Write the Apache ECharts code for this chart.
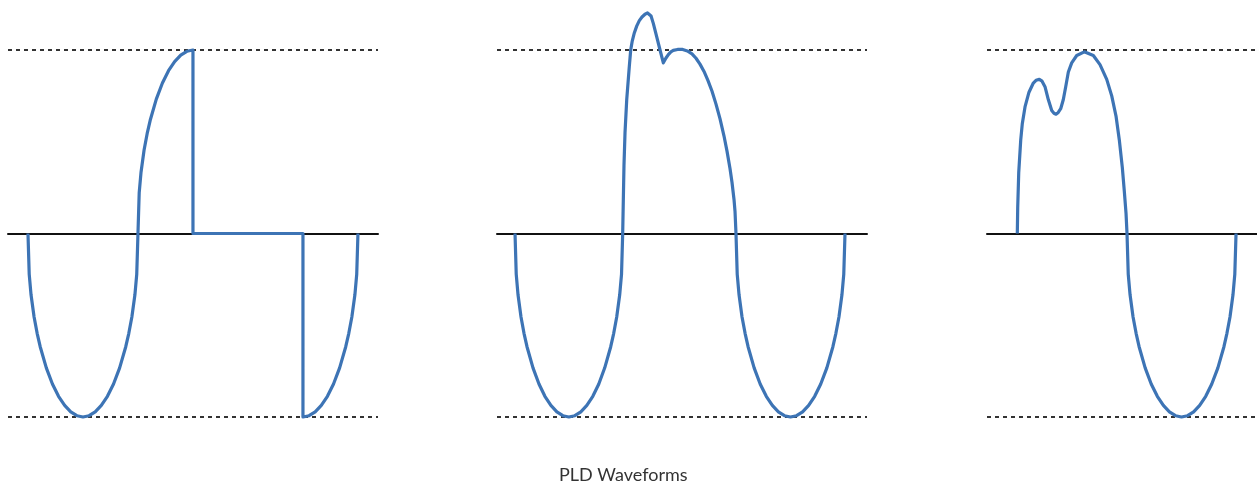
<!DOCTYPE html>
<html>
<head>
<meta charset="utf-8">
<script src="https://cdn.jsdelivr.net/npm/echarts@6/dist/echarts.min.js"></script>
<style>
html,body{margin:0;padding:0;background:#fff;}
#chart{width:1257px;height:485px;}
</style>
</head>
<body>
<div id="chart"></div>
<script>
// Phase angle (degrees) vs normalised amplitude
const titleText = 'PLD Waveforms';

const wave1 = [
  [0,0],[2,-0.221],[5,-0.334],[10,-0.455],[15,-0.544],[20,-0.617],[30,-0.732],[40,-0.82],[50,-0.887],[60,-0.937],[70,-0.972],[80,-0.993],[90,-1],
  [100,-0.993],[110,-0.972],[120,-0.937],[130,-0.887],[140,-0.82],[150,-0.732],[160,-0.617],[165,-0.544],[170,-0.455],[175,-0.334],[178,-0.221],[180,0],
  [182,0.221],[185,0.334],[190,0.455],[195,0.544],[200,0.617],[210,0.732],[220,0.82],[230,0.887],[240,0.937],[250,0.972],[260,0.993],[270,1],
  [270,0],[450,0],[450,-1],
  [460,-0.993],[470,-0.972],[480,-0.937],[490,-0.887],[500,-0.82],[510,-0.732],[520,-0.617],[525,-0.544],[530,-0.455],[535,-0.334],[538,-0.221],[540,0]
];

const wave2 = [
  [0,0],[1.96,-0.221],[4.9,-0.334],[9.8,-0.455],[14.7,-0.544],[19.6,-0.617],[29.4,-0.732],[39.2,-0.82],[48.9,-0.887],[58.7,-0.937],[68.5,-0.972],[78.3,-0.993],[88.1,-1],
  [97.9,-0.993],[107.7,-0.972],[117.5,-0.937],[127.3,-0.887],[137.1,-0.82],[146.8,-0.732],[156.6,-0.617],[161.5,-0.544],[166.4,-0.455],[171.3,-0.334],[174.3,-0.221],[176.2,0],
  [177.2,0.18],[178.3,0.37],[180,0.55],[182.8,0.73],[187,0.91],[189.3,1.0],[191.9,1.05],[195.2,1.093],[199.1,1.13],[203.4,1.16],[207.8,1.18],[212.7,1.195],[216.8,1.202],[219.8,1.205],
  [222.6,1.185],[226.3,1.145],[231.9,1.072],[237.3,1.0],[242.7,0.93],
  [246.8,0.955],[250.9,0.975],[255,0.99],[259,0.998],[266,1.003],[274.4,1.003],[282,0.995],[289.6,0.979],[296.2,0.955],[302.7,0.923],[309.3,0.883],[315.8,0.833],[322.4,0.775],
  [328.9,0.705],[335.5,0.625],[342,0.531],[346.9,0.449],[351.8,0.354],[355.1,0.278],[358.4,0.184],[360,0.121],[361.6,0],
  [363.6,-0.221],[366.6,-0.334],[371.5,-0.455],[376.5,-0.544],[381.4,-0.617],[391.3,-0.732],[401.2,-0.82],[411.2,-0.887],[421.1,-0.937],[431,-0.972],[440.9,-0.993],[450.8,-1],
  [460.7,-0.993],[470.6,-0.972],[480.5,-0.937],[490.4,-0.887],[500.3,-0.82],[510.3,-0.732],[520.2,-0.617],[525.1,-0.544],[530.1,-0.455],[535,-0.334],[538,-0.221],[540,0]
];

const wave3 = [
  [0,0],[0.65,0.14],[2.3,0.33],[5.6,0.51],[8.2,0.6],[12.6,0.69],[19.1,0.77],[26.2,0.82],[30.6,0.835],[36,0.84],[40.5,0.83],[45.3,0.8],[50.7,0.73],[56.3,0.67],[60,0.655],[63.3,0.65],[67,0.66],[71,0.68],
  [75.3,0.73],[79.2,0.8],[83.5,0.88],[89,0.93],[97.2,0.97],[109.6,0.99],[124.4,0.97],[135.3,0.92],[146.3,0.84],[154.5,0.75],[161.5,0.64],[166.9,0.51],[171.8,0.36],[175.1,0.23],[177.9,0.11],[179.5,0],
  [181.5,-0.221],[184.5,-0.334],[189.4,-0.455],[194.4,-0.544],[199.3,-0.617],[209.2,-0.732],[219.1,-0.82],[229.1,-0.887],[239,-0.937],[248.9,-0.972],[258.8,-0.993],[268.7,-1],
  [278.6,-0.993],[288.5,-0.972],[298.4,-0.937],[308.3,-0.887],[318.2,-0.82],[328.2,-0.732],[338.1,-0.617],[343,-0.544],[348,-0.455],[352.9,-0.334],[355.9,-0.221],[357.9,0]
];

// x-axis phase ranges of each panel
const xRanges = [[-32.7, 572.8], [-29.5, 576], [-49.6, 392.2]];
const yTicks = [-1, 0, 1];

const waves = [wave1, wave2, wave3];
const gridLefts = [8, 497, 987];
const gridWidths = [370, 370, 270];
const lineColor = '#3d74b5';

const chart = echarts.init(document.getElementById('chart'), null, {renderer: 'canvas'});
const grids = [], xAxes = [], yAxes = [], series = [];
for (let i = 0; i < 3; i++) {
  grids.push({left: gridLefts[i], width: gridWidths[i], top: 50, bottom: 68, containLabel: false});
  xAxes.push({
    type: 'value', gridIndex: i, min: xRanges[i][0], max: xRanges[i][1],
    axisLine: {show: true, onZero: true, lineStyle: {color: '#111', width: 2}},
    axisTick: {show: false}, axisLabel: {show: false}, splitLine: {show: false}
  });
  yAxes.push({
    type: 'value', gridIndex: i, min: yTicks[0], max: yTicks[2], interval: 1,
    axisLine: {show: false}, axisTick: {show: false}, axisLabel: {show: false},
    splitLine: {show: true, lineStyle: {color: ['#333', 'rgba(0,0,0,0)', '#333'], width: 2, type: [4, 4]}}
  });
  series.push({
    type: 'line', xAxisIndex: i, yAxisIndex: i, data: waves[i],
    showSymbol: false, symbol: 'none', clip: false, smooth: false,
    lineStyle: {color: lineColor, width: 3.2, join: 'round'},
    z: 5
  });
}

chart.setOption({
  animation: false,
  backgroundColor: '#fff',
  title: {
    text: titleText, left: 559, top: 466, padding: 0,
    textStyle: {fontFamily: 'Lato', fontSize: 18, fontWeight: 'normal', color: '#333'}
  },
  grid: grids, xAxis: xAxes, yAxis: yAxes, series: series
});
</script>
</body>
</html>
